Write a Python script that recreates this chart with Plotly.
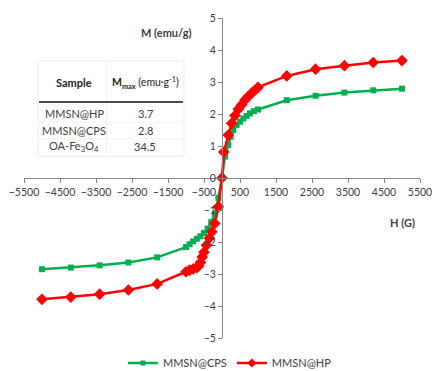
import plotly.graph_objects as go

# ---- data ----
h_cps = [-5000, -4200, -3400, -2600, -1800, -1000, -900, -800, -700, -600, -500, -400, -300, -200, -100, 0,
         83, 175, 241, 314, 407, 500, 592, 685, 778, 889, 1000, 1800, 2600, 3400, 4200, 5000]
m_cps = [-2.85, -2.80, -2.73, -2.64, -2.48, -2.16, -2.07, -1.98, -1.90, -1.82, -1.72, -1.58, -1.38, -1.12, -0.62, 0.02,
         0.67, 1.03, 1.29, 1.50, 1.66, 1.76, 1.86, 1.94, 2.02, 2.09, 2.14, 2.43, 2.57, 2.67, 2.74, 2.79]

h_hp = [-5000, -4200, -3400, -2600, -1800, -1000, -900, -800, -700, -650, -600, -550, -500, -430, -350, -280, -200, -100, 0,
        50, 175, 269, 361, 453, 547, 639, 731, 825, 917, 1000, 1800, 2600, 3400, 4200, 5000]
m_hp = [-3.79, -3.72, -3.63, -3.50, -3.31, -2.93, -2.88, -2.84, -2.80, -2.75, -2.64, -2.47, -2.32, -2.10, -1.88, -1.68, -1.42, -0.90, 0.0,
        0.81, 1.34, 1.71, 1.95, 2.15, 2.29, 2.44, 2.55, 2.65, 2.75, 2.83, 3.19, 3.40, 3.51, 3.61, 3.67]

table_samples = ["MMSN@HP", "MMSN@CPS", "OA-Fe<sub>3</sub>O<sub>4</sub>"]
table_mmax = ["3.7", "2.8", "34.5"]

x_range = [-5500, 5500]
y_range = [-5, 5]

FONT = "Lato"
TXT = "#404040"
AX = "#868686"
GREEN = "#00B050"
RED = "#FF0000"

fig = go.Figure()
fig.add_trace(go.Scatter(
    x=h_cps, y=m_cps, mode="lines+markers", name="MMSN@CPS", showlegend=False,
    line=dict(color=GREEN, width=2.5),
    marker=dict(symbol="square", size=6, color=GREEN),
))
fig.add_trace(go.Scatter(
    x=h_hp, y=m_hp, mode="lines+markers", name="MMSN@HP", showlegend=False,
    line=dict(color=RED, width=2.5),
    marker=dict(symbol="diamond", size=9, color=RED),
))
# legend entries with small symbols, as in the reference
fig.add_trace(go.Scatter(x=[None], y=[None], mode="lines+markers", name="MMSN@CPS",
                         line=dict(color=GREEN, width=2.5),
                         marker=dict(symbol="square", size=5, color=GREEN)))
fig.add_trace(go.Scatter(x=[None], y=[None], mode="lines+markers", name="MMSN@HP",
                         line=dict(color=RED, width=2.5),
                         marker=dict(symbol="diamond", size=7, color=RED)))

fig.update_layout(
    width=432, height=371,
    margin=dict(l=24, r=12, t=18, b=33, autoexpand=False),
    paper_bgcolor="white", plot_bgcolor="white",
    font=dict(family=FONT, size=10.5, color=TXT),
    showlegend=True,
    legend=dict(orientation="h", x=0.52, xanchor="center", y=-0.078, yanchor="middle",
                font=dict(family=FONT, size=11, color=TXT), itemwidth=30,
                bgcolor="rgba(0,0,0,0)"),
    xaxis=dict(range=x_range, tick0=500, dtick=1000, anchor="free", position=0.5,
               showline=True, linecolor=AX, linewidth=1, ticks="outside", ticklen=4,
               tickcolor=AX, showgrid=False, zeroline=False, ticklabeloverflow="allow",
               tickfont=dict(family=FONT, size=10.5, color=TXT)),
    yaxis=dict(range=y_range, dtick=1, anchor="free", position=0.5,
               showline=True, linecolor=AX, linewidth=1, ticks="outside", ticklen=4,
               tickcolor=AX, showgrid=False, zeroline=False, ticklabeloverflow="allow",
               tickfont=dict(family=FONT, size=10.5, color=TXT)),
)

# axis titles
fig.add_annotation(x=-1550, y=4.55, xref="x", yref="y", text="<b>M (emu/g)</b>", showarrow=False,
                   font=dict(family=FONT, size=11, color=TXT))
fig.add_annotation(x=5000, y=-1.38, xref="x", yref="y", text="<b>H (G)</b>", showarrow=False,
                   font=dict(family=FONT, size=11, color=TXT))

# inset table (data coordinates)
c1, c2 = -4111, -2139
fig.add_annotation(x=c1, y=2.97, text="<b>Sample</b>", showarrow=False,
                   font=dict(family=FONT, size=11, color="#222"))
fig.add_annotation(x=c2, y=2.97, text="<b>M<sub>max</sub></b> (emu·g<sup>-1</sup>)", showarrow=False,
                   font=dict(family=FONT, size=10.5, color="#222"))
row_y = [2.03, 1.47, 0.97]
for s, v, yy in zip(table_samples, table_mmax, row_y):
    fig.add_annotation(x=c1, y=yy, text=s, showarrow=False, font=dict(family=FONT, size=11, color=TXT))
    fig.add_annotation(x=c2, y=yy, text=v, showarrow=False, font=dict(family=FONT, size=11, color=TXT))

# table lines
fig.add_shape(type="rect", x0=-5110, x1=-1055, y0=0.68, y1=3.66, line=dict(color="#EDEDED", width=1))
fig.add_shape(type="line", x0=-3210, x1=-3210, y0=0.68, y1=3.66, line=dict(color="#F2F2F2", width=1))
for yy in [1.75, 1.22]:
    fig.add_shape(type="line", x0=-5110, x1=-1055, y0=yy, y1=yy, line=dict(color="#F2F2F2", width=1))
fig.add_shape(type="line", x0=-5083, x1=-1083, y0=2.375, y1=2.375, line=dict(color="#111", width=1.5))

fig.write_html("out.html", config={"displayModeBar": False},
               post_script="document.body.style.margin='0';document.body.style.overflow='hidden';")
